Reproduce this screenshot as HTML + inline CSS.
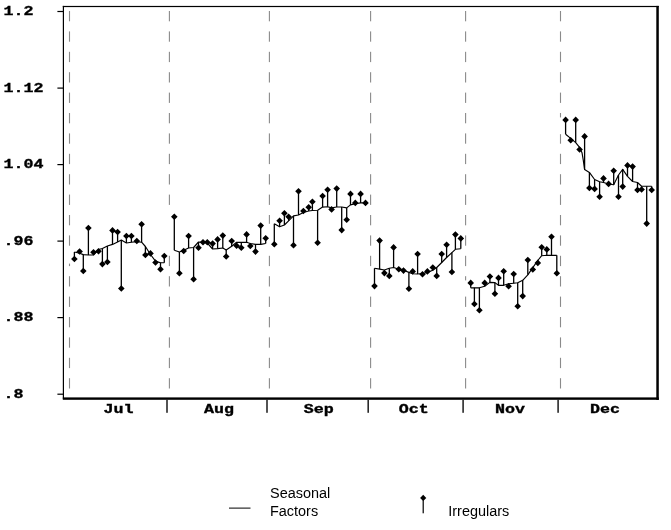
<!DOCTYPE html>
<html lang="en"><head><meta charset="utf-8"><title>Seasonal Factors and Irregulars</title>
<style>html,body{margin:0;padding:0;background:#fff;}body{width:671px;height:530px;overflow:hidden;}svg{display:block;}svg{filter:grayscale(1);}.m{font-family:"Liberation Mono","DejaVu Sans Mono",monospace;font-weight:bold;font-size:13.5px;fill:#000;stroke:#000;stroke-width:0.35px;}.s{font-family:"Liberation Sans","DejaVu Sans",sans-serif;font-size:14.45px;fill:#000;}</style></head><body>
<svg width="671" height="530" viewBox="0 0 671 530">
<rect width="671" height="530" fill="#fff"/>
<g fill="#8a8a8a">
<rect x="68.95" y="11.0" width="1.1" height="10.3"/>
<rect x="68.95" y="31.4" width="1.1" height="10.3"/>
<rect x="68.95" y="51.8" width="1.1" height="10.3"/>
<rect x="68.95" y="72.2" width="1.1" height="10.3"/>
<rect x="68.95" y="92.6" width="1.1" height="10.3"/>
<rect x="68.95" y="113.0" width="1.1" height="10.3"/>
<rect x="68.95" y="133.4" width="1.1" height="10.3"/>
<rect x="68.95" y="153.8" width="1.1" height="10.3"/>
<rect x="68.95" y="174.2" width="1.1" height="10.3"/>
<rect x="68.95" y="194.6" width="1.1" height="10.3"/>
<rect x="68.95" y="215.0" width="1.1" height="10.3"/>
<rect x="68.95" y="235.4" width="1.1" height="10.3"/>
<rect x="68.95" y="263.6" width="1.1" height="2.5"/>
<rect x="68.95" y="276.2" width="1.1" height="10.3"/>
<rect x="68.95" y="296.6" width="1.1" height="10.3"/>
<rect x="68.95" y="317.0" width="1.1" height="10.3"/>
<rect x="68.95" y="337.4" width="1.1" height="10.3"/>
<rect x="68.95" y="357.8" width="1.1" height="10.3"/>
<rect x="68.95" y="378.2" width="1.1" height="10.3"/>
<rect x="168.85" y="11.0" width="1.1" height="10.3"/>
<rect x="168.85" y="31.4" width="1.1" height="10.3"/>
<rect x="168.85" y="51.8" width="1.1" height="10.3"/>
<rect x="168.85" y="72.2" width="1.1" height="10.3"/>
<rect x="168.85" y="92.6" width="1.1" height="10.3"/>
<rect x="168.85" y="113.0" width="1.1" height="10.3"/>
<rect x="168.85" y="133.4" width="1.1" height="10.3"/>
<rect x="168.85" y="153.8" width="1.1" height="10.3"/>
<rect x="168.85" y="174.2" width="1.1" height="10.3"/>
<rect x="168.85" y="194.6" width="1.1" height="10.3"/>
<rect x="168.85" y="255.8" width="1.1" height="10.3"/>
<rect x="168.85" y="276.2" width="1.1" height="10.3"/>
<rect x="168.85" y="296.6" width="1.1" height="10.3"/>
<rect x="168.85" y="317.0" width="1.1" height="10.3"/>
<rect x="168.85" y="337.4" width="1.1" height="10.3"/>
<rect x="168.85" y="357.8" width="1.1" height="10.3"/>
<rect x="168.85" y="378.2" width="1.1" height="10.3"/>
<rect x="268.85" y="11.0" width="1.1" height="10.3"/>
<rect x="268.85" y="31.4" width="1.1" height="10.3"/>
<rect x="268.85" y="51.8" width="1.1" height="10.3"/>
<rect x="268.85" y="72.2" width="1.1" height="10.3"/>
<rect x="268.85" y="92.6" width="1.1" height="10.3"/>
<rect x="268.85" y="113.0" width="1.1" height="10.3"/>
<rect x="268.85" y="133.4" width="1.1" height="10.3"/>
<rect x="268.85" y="153.8" width="1.1" height="10.3"/>
<rect x="268.85" y="174.2" width="1.1" height="10.3"/>
<rect x="268.85" y="194.6" width="1.1" height="10.3"/>
<rect x="268.85" y="215.0" width="1.1" height="8.8"/>
<rect x="268.85" y="255.8" width="1.1" height="10.3"/>
<rect x="268.85" y="276.2" width="1.1" height="10.3"/>
<rect x="268.85" y="296.6" width="1.1" height="10.3"/>
<rect x="268.85" y="317.0" width="1.1" height="10.3"/>
<rect x="268.85" y="337.4" width="1.1" height="10.3"/>
<rect x="268.85" y="357.8" width="1.1" height="10.3"/>
<rect x="268.85" y="378.2" width="1.1" height="10.3"/>
<rect x="370.05" y="11.0" width="1.1" height="10.3"/>
<rect x="370.05" y="31.4" width="1.1" height="10.3"/>
<rect x="370.05" y="51.8" width="1.1" height="10.3"/>
<rect x="370.05" y="72.2" width="1.1" height="10.3"/>
<rect x="370.05" y="92.6" width="1.1" height="10.3"/>
<rect x="370.05" y="113.0" width="1.1" height="10.3"/>
<rect x="370.05" y="133.4" width="1.1" height="10.3"/>
<rect x="370.05" y="153.8" width="1.1" height="10.3"/>
<rect x="370.05" y="174.2" width="1.1" height="10.3"/>
<rect x="370.05" y="194.6" width="1.1" height="10.3"/>
<rect x="370.05" y="215.0" width="1.1" height="10.3"/>
<rect x="370.05" y="235.4" width="1.1" height="10.3"/>
<rect x="370.05" y="255.8" width="1.1" height="10.3"/>
<rect x="370.05" y="296.6" width="1.1" height="10.3"/>
<rect x="370.05" y="317.0" width="1.1" height="10.3"/>
<rect x="370.05" y="337.4" width="1.1" height="10.3"/>
<rect x="370.05" y="357.8" width="1.1" height="10.3"/>
<rect x="370.05" y="378.2" width="1.1" height="10.3"/>
<rect x="465.05" y="11.0" width="1.1" height="10.3"/>
<rect x="465.05" y="31.4" width="1.1" height="10.3"/>
<rect x="465.05" y="51.8" width="1.1" height="10.3"/>
<rect x="465.05" y="72.2" width="1.1" height="10.3"/>
<rect x="465.05" y="92.6" width="1.1" height="10.3"/>
<rect x="465.05" y="113.0" width="1.1" height="10.3"/>
<rect x="465.05" y="133.4" width="1.1" height="10.3"/>
<rect x="465.05" y="153.8" width="1.1" height="10.3"/>
<rect x="465.05" y="174.2" width="1.1" height="10.3"/>
<rect x="465.05" y="194.6" width="1.1" height="10.3"/>
<rect x="465.05" y="215.0" width="1.1" height="10.3"/>
<rect x="465.05" y="235.4" width="1.1" height="10.3"/>
<rect x="465.05" y="255.8" width="1.1" height="10.3"/>
<rect x="465.05" y="276.2" width="1.1" height="4.2"/>
<rect x="465.05" y="296.6" width="1.1" height="10.3"/>
<rect x="465.05" y="317.0" width="1.1" height="10.3"/>
<rect x="465.05" y="337.4" width="1.1" height="10.3"/>
<rect x="465.05" y="357.8" width="1.1" height="10.3"/>
<rect x="465.05" y="378.2" width="1.1" height="10.3"/>
<rect x="559.95" y="11.0" width="1.1" height="10.3"/>
<rect x="559.95" y="31.4" width="1.1" height="10.3"/>
<rect x="559.95" y="51.8" width="1.1" height="10.3"/>
<rect x="559.95" y="72.2" width="1.1" height="10.3"/>
<rect x="559.95" y="92.6" width="1.1" height="10.3"/>
<rect x="559.95" y="113.0" width="1.1" height="4.4"/>
<rect x="559.95" y="134.2" width="1.1" height="9.5"/>
<rect x="559.95" y="153.8" width="1.1" height="10.3"/>
<rect x="559.95" y="174.2" width="1.1" height="10.3"/>
<rect x="559.95" y="194.6" width="1.1" height="10.3"/>
<rect x="559.95" y="215.0" width="1.1" height="10.3"/>
<rect x="559.95" y="235.4" width="1.1" height="10.3"/>
<rect x="559.95" y="255.8" width="1.1" height="10.3"/>
<rect x="559.95" y="276.2" width="1.1" height="10.3"/>
<rect x="559.95" y="296.6" width="1.1" height="10.3"/>
<rect x="559.95" y="317.0" width="1.1" height="10.3"/>
<rect x="559.95" y="337.4" width="1.1" height="10.3"/>
<rect x="559.95" y="357.8" width="1.1" height="10.3"/>
<rect x="559.95" y="378.2" width="1.1" height="10.3"/>
</g>
<g fill="#000">
<rect x="62.8" y="5.9" width="1.2" height="393"/>
<rect x="62.8" y="5.9" width="596" height="1.2"/>
<rect x="656.3" y="5.9" width="2.5" height="394"/>
<rect x="62.8" y="397.4" width="596" height="2.4"/>
<rect x="57.4" y="10.9" width="6" height="1.2"/>
<rect x="57.4" y="87.5" width="6" height="1.2"/>
<rect x="57.4" y="164" width="6" height="1.2"/>
<rect x="57.4" y="240.5" width="6" height="1.2"/>
<rect x="57.4" y="317" width="6" height="1.2"/>
<rect x="57.4" y="393.6" width="6" height="1.2"/>
</g>
<g fill="#2a2a2a">
<rect x="166.2" y="399" width="1.6" height="13.8"/>
<rect x="266.2" y="399" width="1.6" height="13.8"/>
<rect x="367.4" y="399" width="1.6" height="13.8"/>
<rect x="462.3" y="399" width="1.6" height="13.8"/>
<rect x="557.3" y="399" width="1.6" height="13.8"/>
</g>
<text class="m" x="3.6" y="14.9" textLength="30" lengthAdjust="spacingAndGlyphs">1.2</text>
<text class="m" x="3.6" y="91.5" textLength="40" lengthAdjust="spacingAndGlyphs">1.12</text>
<text class="m" x="3.6" y="168" textLength="40" lengthAdjust="spacingAndGlyphs">1.04</text>
<text class="m" x="3.6" y="244.5" textLength="30" lengthAdjust="spacingAndGlyphs">.96</text>
<text class="m" x="3.6" y="321" textLength="30" lengthAdjust="spacingAndGlyphs">.88</text>
<text class="m" x="3.6" y="397.6" textLength="20" lengthAdjust="spacingAndGlyphs">.8</text>
<text class="m" x="103.6" y="412.8" textLength="30" lengthAdjust="spacingAndGlyphs">Jul</text>
<text class="m" x="203.9" y="412.8" textLength="30" lengthAdjust="spacingAndGlyphs">Aug</text>
<text class="m" x="303.7" y="412.8" textLength="30" lengthAdjust="spacingAndGlyphs">Sep</text>
<text class="m" x="398.7" y="412.8" textLength="30" lengthAdjust="spacingAndGlyphs">Oct</text>
<text class="m" x="494.9" y="412.8" textLength="30" lengthAdjust="spacingAndGlyphs">Nov</text>
<text class="m" x="590" y="412.8" textLength="30" lengthAdjust="spacingAndGlyphs">Dec</text>
<g stroke="#000" stroke-width="1.15" fill="none" stroke-linejoin="round">
<polyline points="74.4,252 79.6,253.3 83.3,254.6 88.4,255 93.5,255 98.5,249.5 102.4,248.5 107.4,246 112.5,244.4 117.6,242 121.3,240 126.4,243 131.4,242.2 136.8,241.6 141.6,242.2 145.4,246.5 150.5,254.5 155.5,261.1 160.5,262.7 164.3,262.7"/>
<polyline points="174.3,250.3 179.4,252 183.7,250.3 188.6,248 193.6,247.5 198.5,242 203,242.2 207.3,243 212.6,249 217.6,248.6 222.8,248 226.2,250 231.7,246.3 236.6,242.3 241.3,242.3 246.6,242.3 250.3,243.5 255.5,244.4 260.7,244.4 265.7,243.5"/>
<polyline points="274.3,223.8 279.6,226.8 284.4,225 288.6,220.8 293.5,215.9 298.5,215 303.4,212.5 308.7,211 312.4,210.5 317.6,210.3 322.6,207.1 327.6,206.7 331.6,207.9 336.7,207 341.7,207 346.7,207.9 350.5,204.9 355.3,203.7 360.6,202.9 365.5,202.9"/>
<polyline points="374.5,268.2 379.6,269.1 384.4,270 389.3,268.2 393.6,267.5 398.8,269.3 403.5,270.3 408.9,272.4 412.7,273.8 417.6,274 422.5,273.5 427.4,272.4 432.8,270.3 436.7,267.5 441.7,262.5 446.6,257.5 451.9,252.6 455.4,249.3 460.8,248.8"/>
<polyline points="470.7,287.8 474.4,287.8 479.4,287.8 484.7,286.3 489.9,282.4 494.9,282.6 498.5,285.3 503.7,285.3 508.6,283.7 513.7,283.2 517.7,282.8 522.7,280.3 527.8,274.8 532.8,267.6 537.8,260.5 541.7,255.7 546.8,255.3 551.5,255.3 556.8,255.3"/>
<polyline points="565.6,134.2 570.7,138.4 575.7,142.6 579.6,147.3 582,152.7 583.3,160.4 584.6,169.6 589.4,172.4 594.6,179.5 599.6,181.7 603.5,182.5 608.6,184 613.7,184.8 618.5,175 622.7,169.3 627.5,176.3 632.6,181.5 637.5,182.5 641.6,186.2 646.7,186.2 651.7,186.2"/>
</g>
<g stroke="#000" stroke-width="1.3" fill="none">
<path d="M74.4 252V259M79.6 253.3V251.5M83.3 254.6V271M88.4 255V228M93.5 255V252.3M98.5 249.5V251.2M102.4 248.5V264.1M107.4 246V262M112.5 244.4V230.4M117.6 242V232M121.3 240V288.5M126.4 243V236M131.4 242.2V236M136.8 241.6V241M141.6 242.2V224.3M145.4 246.5V255M150.5 254.5V253.4M155.5 261.1V262.5M160.5 262.7V269.2M164.3 262.7V256"/>
<path d="M174.3 250.3V216.8M179.4 252V273.2M183.7 250.3V251M188.6 248V236M193.6 247.5V279.3M198.5 242V247.7M203 242.2V242.3M207.3 243V242.3M212.6 249V243.6M217.6 248.6V239.4M222.8 248V235.6M226.2 250V256.5M231.7 246.3V241M236.6 242.3V245.7M241.3 242.3V247.8M246.6 242.3V234.4M250.3 243.5V246M255.5 244.4V251.6M260.7 244.4V225.6M265.7 243.5V238.2"/>
<path d="M274.3 223.8V244.2M279.6 226.8V220.8M284.4 225V213.2M288.6 220.8V216.7M293.5 215.9V245.2M298.5 215V191.3M303.4 212.5V211M308.7 211V207.2M312.4 210.5V201.8M317.6 210.3V242.8M322.6 207.1V196M327.6 206.7V189.8M331.6 207.9V209.4M336.7 207V188.6M341.7 207V230.1M346.7 207.9V219.8M350.5 204.9V193.9M355.3 203.7V202.9M360.6 202.9V193.9M365.5 202.9V202.9"/>
<path d="M374.5 268.2V286.1M379.6 269.1V240.6M384.4 270V273.1M389.3 268.2V275.9M393.6 267.5V247.4M398.8 269.3V269.3M403.5 270.3V270.6M408.9 272.4V288.7M412.7 273.8V271.4M417.6 274V254M422.5 273.5V274.2M427.4 272.4V271.4M432.8 270.3V267.5M436.7 267.5V275.9M441.7 262.5V254M446.6 257.5V244.8M451.9 252.6V272M455.4 249.3V234.6M460.8 248.8V238.4"/>
<path d="M470.7 287.8V282.9M474.4 287.8V304M479.4 287.8V310.3M484.7 286.3V282.9M489.9 282.4V276.5M494.9 282.6V293.7M498.5 285.3V277.9M503.7 285.3V271.2M508.6 283.7V286.3M513.7 283.2V274M517.7 282.8V306.2M522.7 280.3V296.1M527.8 274.8V260M532.8 267.6V269.5M537.8 260.5V262.9M541.7 255.7V247.3M546.8 255.3V249.4M551.5 255.3V236.7M556.8 255.3V273.2"/>
<path d="M565.6 134.2V119.9M570.7 138.4V140.2M575.7 142.6V119.9M579.6 147.3V149.5M584.6 169.6V136.4M589.4 172.4V188M594.6 179.5V188.9M599.6 181.7V196.7M603.5 182.5V178.4M608.6 184V183.9M613.7 184.8V170.8M618.5 175V196.7M622.7 169.3V186.6M627.5 176.3V165.4M632.6 181.5V166.6M637.5 182.5V190M641.6 186.2V189.5M646.7 186.2V223.6M651.7 186.2V190"/>
</g>
<g fill="#000">
<path d="M74.4 255.7l3.3 3.3l-3.3 3.3l-3.3 -3.3zM79.6 248.2l3.3 3.3l-3.3 3.3l-3.3 -3.3zM83.3 267.7l3.3 3.3l-3.3 3.3l-3.3 -3.3zM88.4 224.7l3.3 3.3l-3.3 3.3l-3.3 -3.3zM93.5 249l3.3 3.3l-3.3 3.3l-3.3 -3.3zM98.5 247.9l3.3 3.3l-3.3 3.3l-3.3 -3.3zM102.4 260.8l3.3 3.3l-3.3 3.3l-3.3 -3.3zM107.4 258.7l3.3 3.3l-3.3 3.3l-3.3 -3.3zM112.5 227.1l3.3 3.3l-3.3 3.3l-3.3 -3.3zM117.6 228.7l3.3 3.3l-3.3 3.3l-3.3 -3.3zM121.3 285.2l3.3 3.3l-3.3 3.3l-3.3 -3.3zM126.4 232.7l3.3 3.3l-3.3 3.3l-3.3 -3.3zM131.4 232.7l3.3 3.3l-3.3 3.3l-3.3 -3.3zM136.8 237.7l3.3 3.3l-3.3 3.3l-3.3 -3.3zM141.6 221l3.3 3.3l-3.3 3.3l-3.3 -3.3zM145.4 251.7l3.3 3.3l-3.3 3.3l-3.3 -3.3zM150.5 250.1l3.3 3.3l-3.3 3.3l-3.3 -3.3zM155.5 259.2l3.3 3.3l-3.3 3.3l-3.3 -3.3zM160.5 265.9l3.3 3.3l-3.3 3.3l-3.3 -3.3zM164.3 252.7l3.3 3.3l-3.3 3.3l-3.3 -3.3z"/>
<path d="M174.3 213.5l3.3 3.3l-3.3 3.3l-3.3 -3.3zM179.4 269.9l3.3 3.3l-3.3 3.3l-3.3 -3.3zM183.7 247.7l3.3 3.3l-3.3 3.3l-3.3 -3.3zM188.6 232.7l3.3 3.3l-3.3 3.3l-3.3 -3.3zM193.6 276l3.3 3.3l-3.3 3.3l-3.3 -3.3zM198.5 244.4l3.3 3.3l-3.3 3.3l-3.3 -3.3zM203 239l3.3 3.3l-3.3 3.3l-3.3 -3.3zM207.3 239l3.3 3.3l-3.3 3.3l-3.3 -3.3zM212.6 240.3l3.3 3.3l-3.3 3.3l-3.3 -3.3zM217.6 236.1l3.3 3.3l-3.3 3.3l-3.3 -3.3zM222.8 232.3l3.3 3.3l-3.3 3.3l-3.3 -3.3zM226.2 253.2l3.3 3.3l-3.3 3.3l-3.3 -3.3zM231.7 237.7l3.3 3.3l-3.3 3.3l-3.3 -3.3zM236.6 242.4l3.3 3.3l-3.3 3.3l-3.3 -3.3zM241.3 244.5l3.3 3.3l-3.3 3.3l-3.3 -3.3zM246.6 231.1l3.3 3.3l-3.3 3.3l-3.3 -3.3zM250.3 242.7l3.3 3.3l-3.3 3.3l-3.3 -3.3zM255.5 248.3l3.3 3.3l-3.3 3.3l-3.3 -3.3zM260.7 222.3l3.3 3.3l-3.3 3.3l-3.3 -3.3zM265.7 234.9l3.3 3.3l-3.3 3.3l-3.3 -3.3z"/>
<path d="M274.3 240.9l3.3 3.3l-3.3 3.3l-3.3 -3.3zM279.6 217.5l3.3 3.3l-3.3 3.3l-3.3 -3.3zM284.4 209.9l3.3 3.3l-3.3 3.3l-3.3 -3.3zM288.6 213.4l3.3 3.3l-3.3 3.3l-3.3 -3.3zM293.5 241.9l3.3 3.3l-3.3 3.3l-3.3 -3.3zM298.5 188l3.3 3.3l-3.3 3.3l-3.3 -3.3zM303.4 207.7l3.3 3.3l-3.3 3.3l-3.3 -3.3zM308.7 203.9l3.3 3.3l-3.3 3.3l-3.3 -3.3zM312.4 198.5l3.3 3.3l-3.3 3.3l-3.3 -3.3zM317.6 239.5l3.3 3.3l-3.3 3.3l-3.3 -3.3zM322.6 192.7l3.3 3.3l-3.3 3.3l-3.3 -3.3zM327.6 186.5l3.3 3.3l-3.3 3.3l-3.3 -3.3zM331.6 206.1l3.3 3.3l-3.3 3.3l-3.3 -3.3zM336.7 185.3l3.3 3.3l-3.3 3.3l-3.3 -3.3zM341.7 226.8l3.3 3.3l-3.3 3.3l-3.3 -3.3zM346.7 216.5l3.3 3.3l-3.3 3.3l-3.3 -3.3zM350.5 190.6l3.3 3.3l-3.3 3.3l-3.3 -3.3zM355.3 199.6l3.3 3.3l-3.3 3.3l-3.3 -3.3zM360.6 190.6l3.3 3.3l-3.3 3.3l-3.3 -3.3zM365.5 199.6l3.3 3.3l-3.3 3.3l-3.3 -3.3z"/>
<path d="M374.5 282.8l3.3 3.3l-3.3 3.3l-3.3 -3.3zM379.6 237.3l3.3 3.3l-3.3 3.3l-3.3 -3.3zM384.4 269.8l3.3 3.3l-3.3 3.3l-3.3 -3.3zM389.3 272.6l3.3 3.3l-3.3 3.3l-3.3 -3.3zM393.6 244.1l3.3 3.3l-3.3 3.3l-3.3 -3.3zM398.8 266l3.3 3.3l-3.3 3.3l-3.3 -3.3zM403.5 267.3l3.3 3.3l-3.3 3.3l-3.3 -3.3zM408.9 285.4l3.3 3.3l-3.3 3.3l-3.3 -3.3zM412.7 268.1l3.3 3.3l-3.3 3.3l-3.3 -3.3zM417.6 250.7l3.3 3.3l-3.3 3.3l-3.3 -3.3zM422.5 270.9l3.3 3.3l-3.3 3.3l-3.3 -3.3zM427.4 268.1l3.3 3.3l-3.3 3.3l-3.3 -3.3zM432.8 264.2l3.3 3.3l-3.3 3.3l-3.3 -3.3zM436.7 272.6l3.3 3.3l-3.3 3.3l-3.3 -3.3zM441.7 250.7l3.3 3.3l-3.3 3.3l-3.3 -3.3zM446.6 241.5l3.3 3.3l-3.3 3.3l-3.3 -3.3zM451.9 268.7l3.3 3.3l-3.3 3.3l-3.3 -3.3zM455.4 231.3l3.3 3.3l-3.3 3.3l-3.3 -3.3zM460.8 235.1l3.3 3.3l-3.3 3.3l-3.3 -3.3z"/>
<path d="M470.7 279.6l3.3 3.3l-3.3 3.3l-3.3 -3.3zM474.4 300.7l3.3 3.3l-3.3 3.3l-3.3 -3.3zM479.4 307l3.3 3.3l-3.3 3.3l-3.3 -3.3zM484.7 279.6l3.3 3.3l-3.3 3.3l-3.3 -3.3zM489.9 273.2l3.3 3.3l-3.3 3.3l-3.3 -3.3zM494.9 290.4l3.3 3.3l-3.3 3.3l-3.3 -3.3zM498.5 274.6l3.3 3.3l-3.3 3.3l-3.3 -3.3zM503.7 267.9l3.3 3.3l-3.3 3.3l-3.3 -3.3zM508.6 283l3.3 3.3l-3.3 3.3l-3.3 -3.3zM513.7 270.7l3.3 3.3l-3.3 3.3l-3.3 -3.3zM517.7 302.9l3.3 3.3l-3.3 3.3l-3.3 -3.3zM522.7 292.8l3.3 3.3l-3.3 3.3l-3.3 -3.3zM527.8 256.7l3.3 3.3l-3.3 3.3l-3.3 -3.3zM532.8 266.2l3.3 3.3l-3.3 3.3l-3.3 -3.3zM537.8 259.6l3.3 3.3l-3.3 3.3l-3.3 -3.3zM541.7 244l3.3 3.3l-3.3 3.3l-3.3 -3.3zM546.8 246.1l3.3 3.3l-3.3 3.3l-3.3 -3.3zM551.5 233.4l3.3 3.3l-3.3 3.3l-3.3 -3.3zM556.8 269.9l3.3 3.3l-3.3 3.3l-3.3 -3.3z"/>
<path d="M565.6 116.6l3.3 3.3l-3.3 3.3l-3.3 -3.3zM570.7 136.9l3.3 3.3l-3.3 3.3l-3.3 -3.3zM575.7 116.6l3.3 3.3l-3.3 3.3l-3.3 -3.3zM579.6 146.2l3.3 3.3l-3.3 3.3l-3.3 -3.3zM584.6 133.1l3.3 3.3l-3.3 3.3l-3.3 -3.3zM589.4 184.7l3.3 3.3l-3.3 3.3l-3.3 -3.3zM594.6 185.6l3.3 3.3l-3.3 3.3l-3.3 -3.3zM599.6 193.4l3.3 3.3l-3.3 3.3l-3.3 -3.3zM603.5 175.1l3.3 3.3l-3.3 3.3l-3.3 -3.3zM608.6 180.6l3.3 3.3l-3.3 3.3l-3.3 -3.3zM613.7 167.5l3.3 3.3l-3.3 3.3l-3.3 -3.3zM618.5 193.4l3.3 3.3l-3.3 3.3l-3.3 -3.3zM622.7 183.3l3.3 3.3l-3.3 3.3l-3.3 -3.3zM627.5 162.1l3.3 3.3l-3.3 3.3l-3.3 -3.3zM632.6 163.3l3.3 3.3l-3.3 3.3l-3.3 -3.3zM637.5 186.7l3.3 3.3l-3.3 3.3l-3.3 -3.3zM641.6 186.2l3.3 3.3l-3.3 3.3l-3.3 -3.3zM646.7 220.3l3.3 3.3l-3.3 3.3l-3.3 -3.3zM651.7 186.7l3.3 3.3l-3.3 3.3l-3.3 -3.3z"/>
</g>
<rect x="229" y="507.6" width="21.5" height="1" fill="#000"/>
<text class="s" x="270" y="498.1">Seasonal</text>
<text class="s" x="270" y="515.8">Factors</text>
<rect x="422.6" y="498" width="1.2" height="15.3" fill="#000"/>
<path d="M423.2 494.7l3.1 3.2l-3.1 3.2l-3.1 -3.2z" fill="#000"/>
<text class="s" x="448.3" y="515.8">Irregulars</text>
</svg></body></html>
